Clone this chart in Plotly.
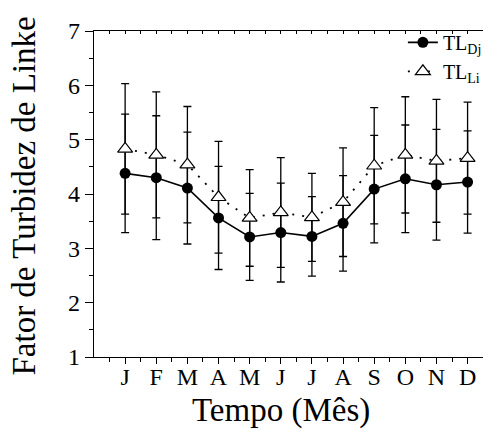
import plotly.graph_objects as go

months = ["J", "F", "M", "A", "M", "J", "J", "A", "S", "O", "N", "D"]
month_pos = [1, 2, 3, 4, 5, 6, 7, 8, 9, 10, 11, 12]

tl_dj = [4.38, 4.30, 4.11, 3.56, 3.21, 3.29, 3.22, 3.46, 4.09, 4.28, 4.17, 4.22]
tl_dj_err = [1.09, 1.14, 1.03, 0.95, 0.80, 0.91, 0.73, 0.88, 0.99, 0.99, 1.02, 0.94]
tl_li = [4.83, 4.72, 4.54, 3.94, 3.56, 3.66, 3.57, 3.85, 4.52, 4.72, 4.61, 4.66]
tl_li_err = [1.20, 1.16, 1.07, 1.03, 0.89, 1.01, 0.81, 1.00, 1.07, 1.07, 1.13, 1.03]

x_title = "Tempo (Mês)"
y_title = "Fator de Turbidez de Linke"

FONT = "Liberation Serif, Times New Roman, serif"

fig = go.Figure()

# error bars (drawn first, under markers)
for y, e in [(tl_dj, tl_dj_err), (tl_li, tl_li_err)]:
    fig.add_trace(go.Scatter(
        x=month_pos, y=y, mode="markers", marker=dict(size=1, opacity=0),
        error_y=dict(type="data", array=e, visible=True, color="black",
                     thickness=1.3, width=4),
        showlegend=False, hoverinfo="skip"))

fig.add_trace(go.Scatter(
    x=month_pos, y=tl_dj, mode="lines+markers", name="TL<sub>Dj</sub>",
    line=dict(color="black", width=1.6),
    marker=dict(symbol="circle", size=11, color="black")))

fig.add_trace(go.Scatter(
    x=month_pos, y=tl_li, mode="lines+markers", name="TL<sub>Li</sub>",
    line=dict(color="black", width=1.8, dash="2px,8px"),
    marker=dict(symbol="triangle-up", size=13, color="white",
                line=dict(color="black", width=1.2))))

# invisible trace on top axis
fig.add_trace(go.Scatter(x=[0, 12.72], y=[1, 1], xaxis="x2", mode="markers",
                         marker=dict(opacity=0), showlegend=False, hoverinfo="skip"))

fig.update_layout(
    width=491, height=445,
    margin=dict(l=86, r=9, t=23, b=96, autoexpand=False),
    paper_bgcolor="white", plot_bgcolor="white",
    font=dict(family=FONT, color="black"),
    showlegend=True,
    legend=dict(x=0.78, y=1.025, xanchor="left", yanchor="top",
                font=dict(family=FONT, size=20, color="black"),
                bgcolor="rgba(0,0,0,0)", tracegroupgap=0),
    xaxis=dict(range=[0, 12.72], tickvals=month_pos, ticktext=months,
               ticks="outside", ticklen=6, tickwidth=1, tickcolor="black",
               minor=dict(tickvals=[i + 0.5 for i in range(0, 13)], ticks="outside",
                          ticklen=3.5, tickcolor="black"),
               showline=True, linecolor="black", linewidth=1.2,
               showgrid=False, zeroline=False, automargin=False,
               tickfont=dict(family=FONT, size=24, color="black"),
               ticklabelstandoff=-8),
    xaxis2=dict(range=[0, 12.72], overlaying="x", side="top", anchor="y",
                tickvals=[i * 0.5 for i in range(1, 26)], ticks="inside", ticklen=3,
                tickcolor="black", showticklabels=False, automargin=False,
                showline=True, linecolor="black", linewidth=1.2,
                showgrid=False, zeroline=False),
    yaxis=dict(range=[1, 7], dtick=1, tick0=1,
               ticks="outside", ticklen=8, tickwidth=1, tickcolor="black",
               minor=dict(dtick=0.5, ticks="outside", ticklen=4, tickcolor="black"),
               showline=True, linecolor="black", linewidth=1.2,
               showgrid=False, zeroline=False, automargin=False,
               tickfont=dict(family=FONT, size=24, color="black")),
    annotations=[
        dict(text=x_title, xref="paper", yref="paper", x=0.472, y=-0.1626,
             xanchor="center", yanchor="middle", showarrow=False,
             font=dict(family=FONT, size=33, color="black")),
        dict(text=y_title, xref="paper", yref="paper", x=-0.177, y=0.495,
             xanchor="center", yanchor="middle", showarrow=False, textangle=-90,
             font=dict(family=FONT, size=33, color="black")),
    ],
)

fig.write_html("out.html")
